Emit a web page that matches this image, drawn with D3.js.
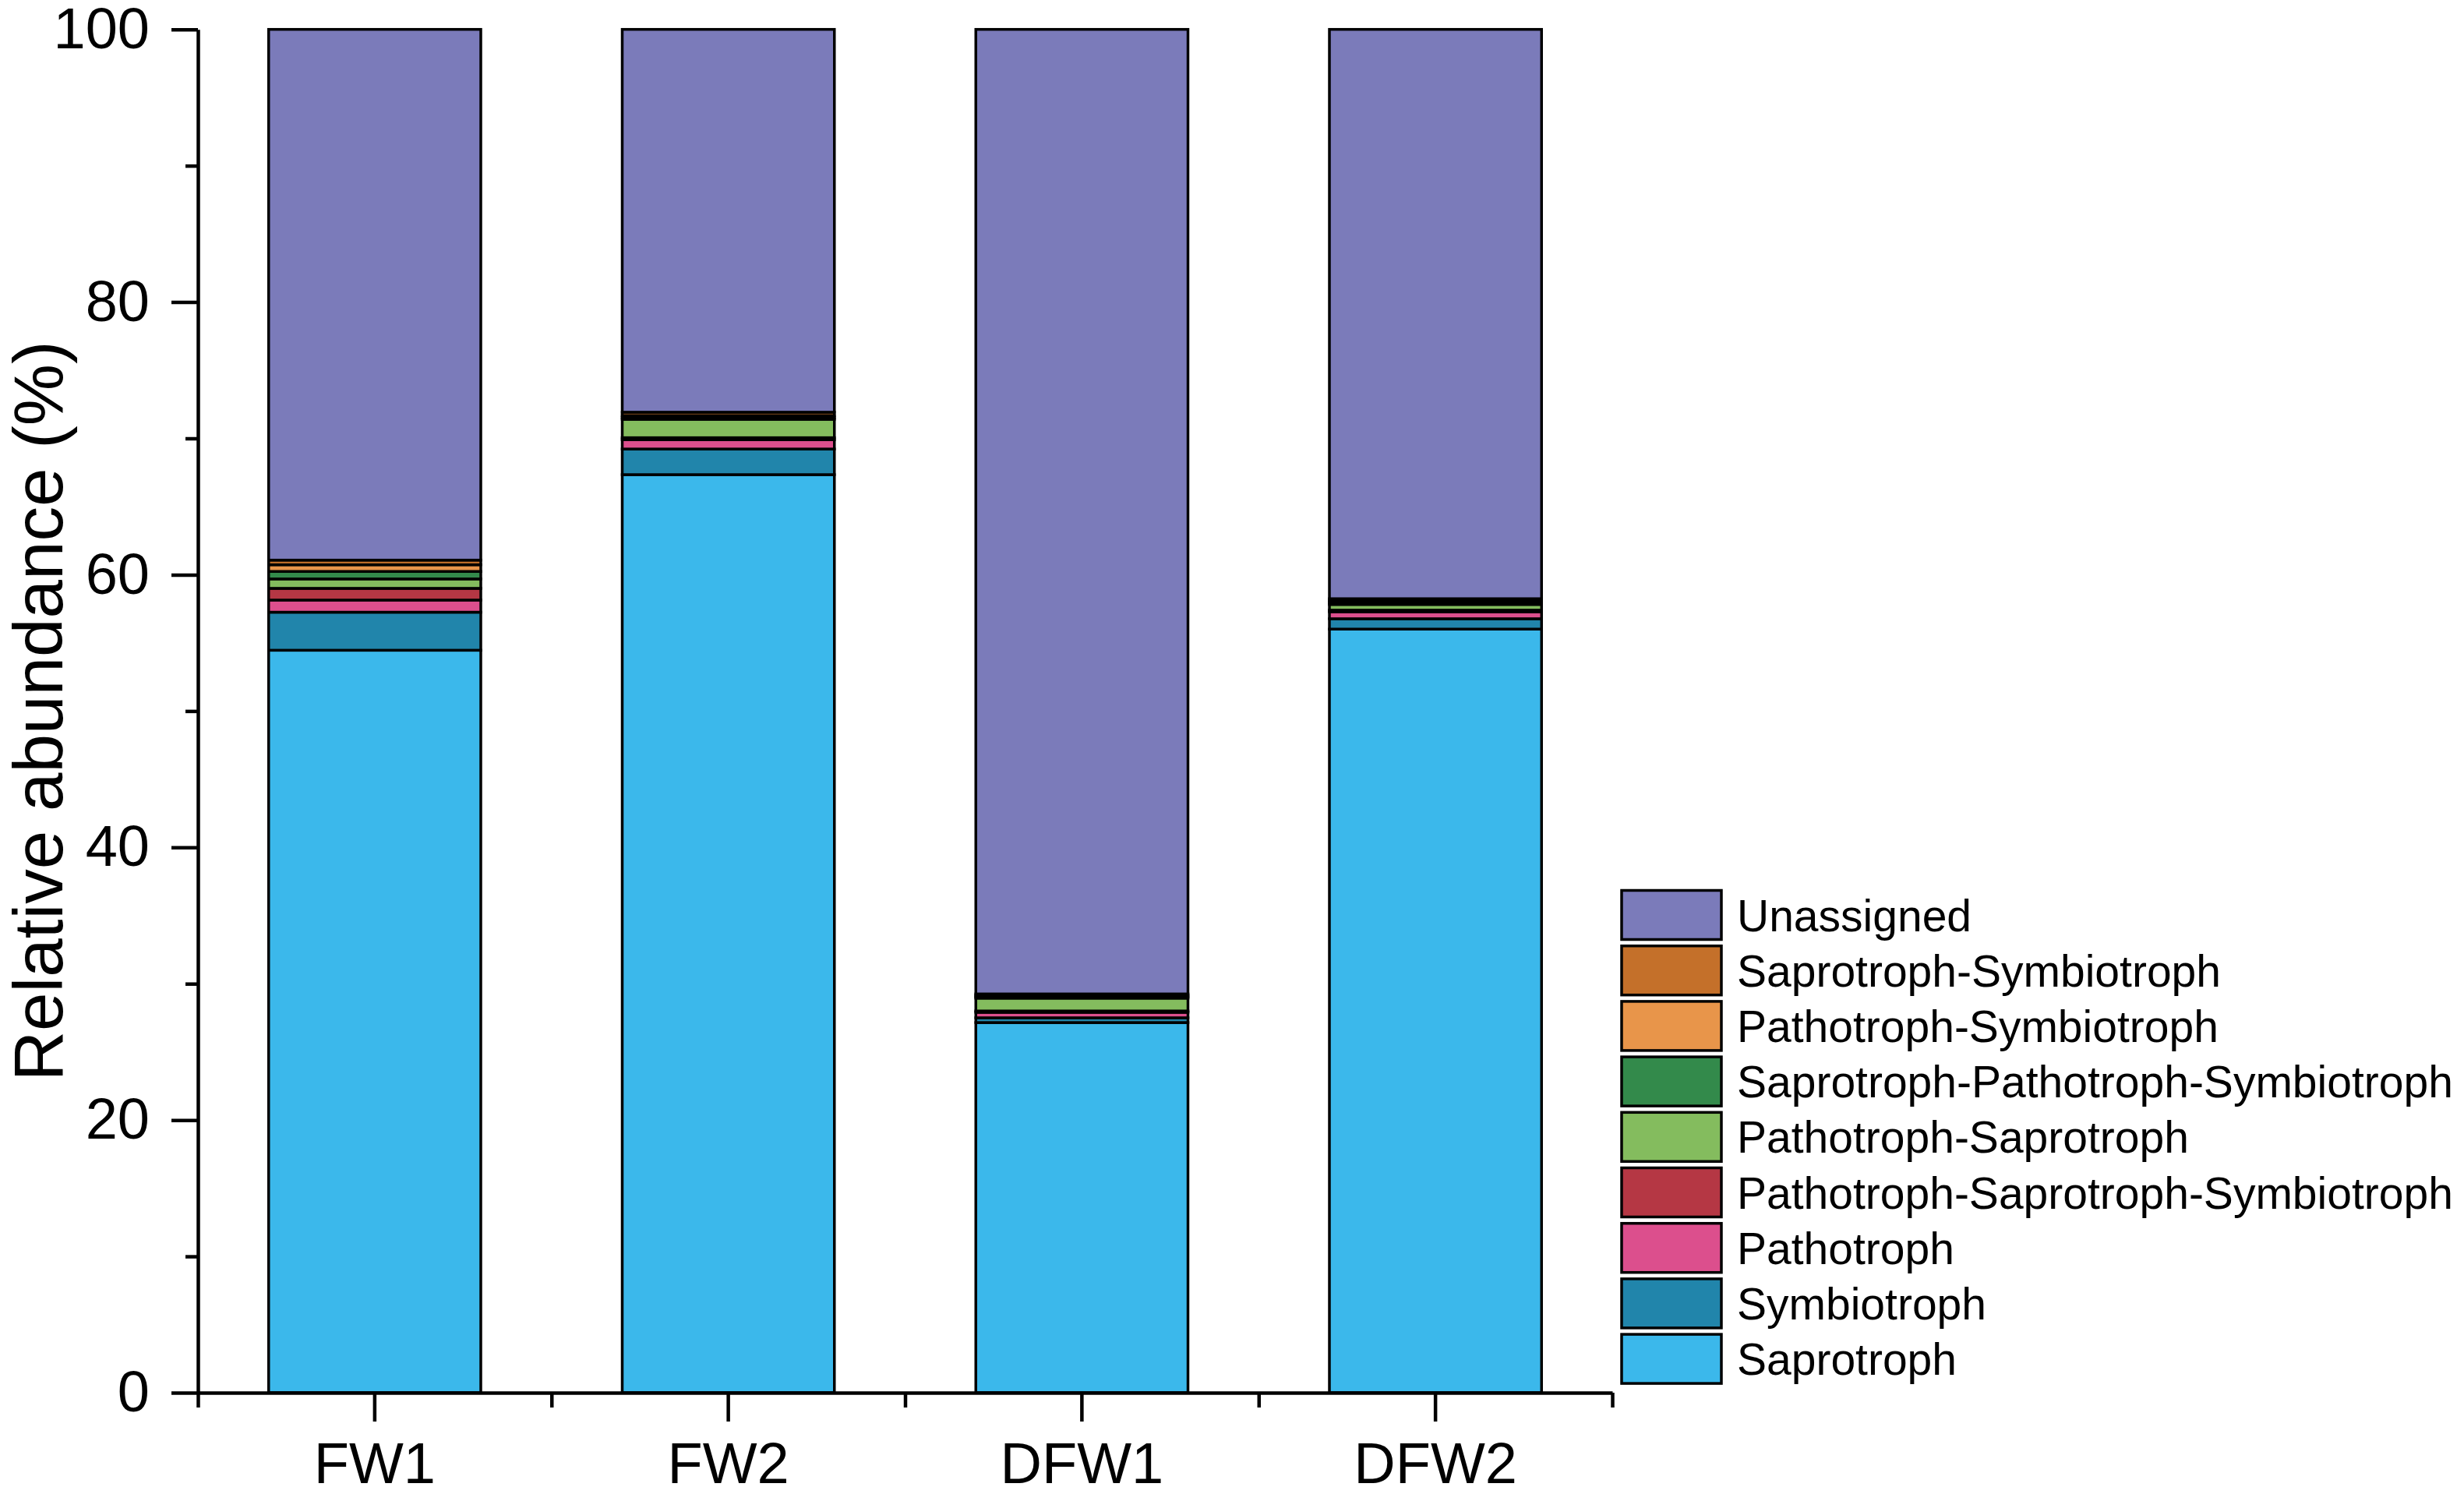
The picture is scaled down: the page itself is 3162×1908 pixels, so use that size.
<!DOCTYPE html>
<html>
<head>
<meta charset="utf-8">
<script src="https://cdn.jsdelivr.net/npm/d3@7"></script>
<style>
  body { margin: 0; background: #fff; }
  text { font-family: "Liberation Sans", Arial, sans-serif; fill: #000; }
</style>
</head>
<body>
<div id="chart"></div>
<script>
// samples on the x axis
const samples = ["FW1", "FW2", "DFW1", "DFW2"];

// guilds, bottom of the stack first
const guilds = [
  "Saprotroph",
  "Symbiotroph",
  "Pathotroph",
  "Pathotroph-Saprotroph-Symbiotroph",
  "Pathotroph-Saprotroph",
  "Saprotroph-Pathotroph-Symbiotroph",
  "Pathotroph-Symbiotroph",
  "Saprotroph-Symbiotroph",
  "Unassigned"
];

// relative abundance (%) per sample
const saprotroph   = [54.46, 67.34, 27.15, 56.01];
const symbiotroph  = [2.79, 1.88, 0.35, 0.76];
const pathotroph   = [0.89, 0.68, 0.40, 0.51];
const pathSapSym   = [0.86, 0.15, 0.10, 0.12];
const pathSap      = [0.69, 1.35, 0.94, 0.42];
const sapPathSym   = [0.55, 0.12, 0.10, 0.14];
const pathSym      = [0.49, 0.15, 0.10, 0.14];
const sapSym       = [0.34, 0.25, 0.11, 0.14];
const unassigned   = [38.93, 28.08, 70.75, 41.76];

const yTicks = [0, 20, 40, 60, 80, 100];
const yMinorTicks = [10, 30, 50, 70, 90];

const colors = ["#3bb8eb", "#2185ab", "#dc4f8d", "#b53744", "#84bc5e",
                "#338a4b", "#e8954a", "#c4702a", "#7b7bba"];

const series = [saprotroph, symbiotroph, pathotroph, pathSapSym, pathSap,
                sapPathSym, pathSym, sapSym, unassigned];

const table = samples.map((s, i) => {
  const row = { sample: s };
  guilds.forEach((g, j) => row[g] = series[j][i]);
  return row;
});

const width = 3162, height = 1908;
const plot = { left: 254, right: 2069, top: 37.7, bottom: 1787 };

const svg = d3.select("#chart")
  .append("svg")
  .attr("width", width)
  .attr("height", height);

const x = d3.scaleBand()
  .domain(samples)
  .range([plot.left, plot.right])
  .paddingInner(0.4)
  .paddingOuter(0.2);

const xEdge = d3.scaleLinear()
  .domain([0, samples.length])
  .range([plot.left, plot.right]);

const y = d3.scaleLinear()
  .domain([0, 100])
  .range([plot.bottom, plot.top]);

const color = d3.scaleOrdinal().domain(guilds).range(colors);

const stacked = d3.stack().keys(guilds)(table);

// bars
svg.append("g")
  .selectAll("g")
  .data(stacked)
  .join("g")
  .attr("fill", d => color(d.key))
  .selectAll("rect")
  .data(d => d)
  .join("rect")
  .attr("x", d => x(d.data.sample))
  .attr("y", d => y(d[1]))
  .attr("width", x.bandwidth())
  .attr("height", d => y(d[0]) - y(d[1]))
  .attr("stroke", "#000")
  .attr("stroke-width", 3.5);

// y axis
const yAxis = svg.append("g")
  .attr("transform", `translate(${plot.left},0)`)
  .call(d3.axisLeft(y).tickValues(yTicks).tickSize(34).tickSizeOuter(0).tickPadding(28));

svg.append("g")
  .attr("transform", `translate(${plot.left},0)`)
  .call(d3.axisLeft(y).tickValues(yMinorTicks).tickSize(16).tickSizeOuter(0).tickFormat(""))
  .call(g => g.select(".domain").remove());

// x axis
const xAxis = svg.append("g")
  .attr("transform", `translate(0,${plot.bottom})`)
  .call(d3.axisBottom(x).tickSize(37).tickSizeOuter(0).tickPadding(26));

svg.append("g")
  .attr("transform", `translate(0,${plot.bottom})`)
  .call(d3.axisBottom(xEdge).tickValues(d3.range(samples.length + 1)).tickSize(19).tickSizeOuter(0).tickFormat(""))
  .call(g => g.select(".domain").remove());

svg.selectAll(".domain, .tick line")
  .attr("stroke", "#000")
  .attr("stroke-width", 4.5);

svg.selectAll(".tick text")
  .style("font-size", "74px")
  .style("font-family", "'Liberation Sans', Arial, sans-serif");

// y title
svg.append("text")
  .attr("transform", `translate(80,${(plot.top + plot.bottom) / 2}) rotate(-90)`)
  .attr("text-anchor", "middle")
  .style("font-size", "89px")
  .text("Relative abundance (%)");

// legend, top entry is the top of the stack
const legend = svg.append("g")
  .attr("transform", "translate(2081,1142.5)");

const legendItems = legend.selectAll("g")
  .data(guilds.slice().reverse())
  .join("g")
  .attr("transform", (d, i) => `translate(0,${i * 71.2})`);

legendItems.append("rect")
  .attr("width", 128)
  .attr("height", 63)
  .attr("fill", d => color(d))
  .attr("stroke", "#000")
  .attr("stroke-width", 3.5);

legendItems.append("text")
  .attr("x", 148)
  .attr("y", 32)
  .attr("dominant-baseline", "central")
  .style("font-size", "57px")
  .text(d => d);
</script>
</body>
</html>
